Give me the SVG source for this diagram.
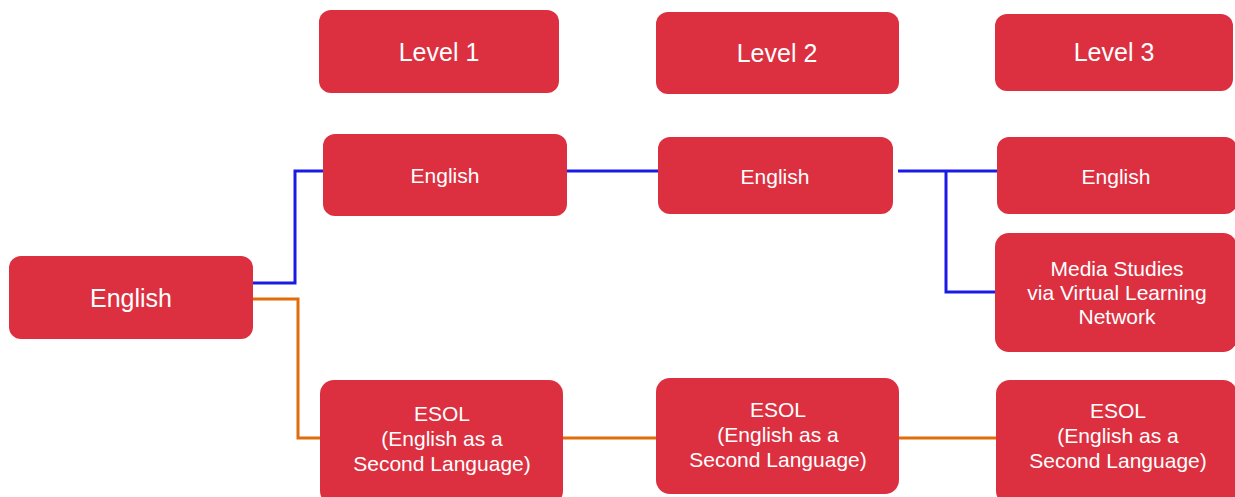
<svg xmlns="http://www.w3.org/2000/svg" width="1235" height="497" viewBox="0 0 1235 497">
<style>
.box{fill:#DC3040;}
.t{fill:#fff;font-family:"Liberation Sans",Arial,sans-serif;text-anchor:middle;}
.lg{font-size:25px;}
.md{font-size:21px;}
.blue{stroke:#1A1AE6;stroke-width:3;fill:none;}
.orange{stroke:#E36C0A;stroke-width:3;fill:none;}
</style>
<rect width="1235" height="497" fill="#fff"/>
<g id="connectors">
<polyline class="blue" points="250,283 295,283 295,171 323,171"/>
<polyline class="orange" points="253,299 298,299 298,438 320,438"/>
<line class="blue" x1="567" y1="171" x2="658" y2="171"/>
<polyline class="blue" points="898,171 997,171"/>
<polyline class="blue" points="946,171 946,292 996,292"/>
<line class="orange" x1="563" y1="438" x2="656" y2="438"/>
<line class="orange" x1="899" y1="438" x2="996" y2="438"/>
</g>
<g id="level1"><rect class="box" x="319" y="10" width="240" height="83" rx="12"/><text class="t lg" x="439" y="61">Level 1</text></g>
<g id="level2"><rect class="box" x="656" y="12" width="243" height="82" rx="12"/><text class="t lg" x="777" y="62">Level 2</text></g>
<g id="level3"><rect class="box" x="995" y="14" width="238" height="77" rx="12"/><text class="t lg" x="1114" y="61">Level 3</text></g>
<g id="root"><rect class="box" x="9" y="256" width="244" height="83" rx="12"/><text class="t lg" x="131" y="307">English</text></g>
<g id="eng1"><rect class="box" x="323" y="134" width="244" height="82" rx="12"/><text class="t md" x="445" y="183">English</text></g>
<g id="eng2"><rect class="box" x="658" y="137" width="235" height="77" rx="12"/><text class="t md" x="775" y="184">English</text></g>
<g id="eng3"><rect class="box" x="997" y="137" width="240" height="77" rx="12"/><text class="t md" x="1116" y="184">English</text></g>
<g id="media"><rect class="box" x="995" y="233" width="242" height="119" rx="14"/><text class="t md" x="1117" y="276">Media Studies<tspan x="1117" dy="24">via Virtual Learning</tspan><tspan x="1117" dy="24">Network</tspan></text></g>
<g id="esol1"><rect class="box" x="320" y="380" width="243" height="125" rx="14"/><text class="t md" x="442" y="421">ESOL<tspan x="442" dy="25">(English as a</tspan><tspan x="442" dy="25">Second Language)</tspan></text></g>
<g id="esol2"><rect class="box" x="656" y="378" width="243" height="116" rx="14"/><text class="t md" x="778" y="417">ESOL<tspan x="778" dy="25">(English as a</tspan><tspan x="778" dy="25">Second Language)</tspan></text></g>
<g id="esol3"><rect class="box" x="996" y="380" width="241" height="125" rx="14"/><text class="t md" x="1118" y="418">ESOL<tspan x="1118" dy="25">(English as a</tspan><tspan x="1118" dy="25">Second Language)</tspan></text></g>
</svg>
